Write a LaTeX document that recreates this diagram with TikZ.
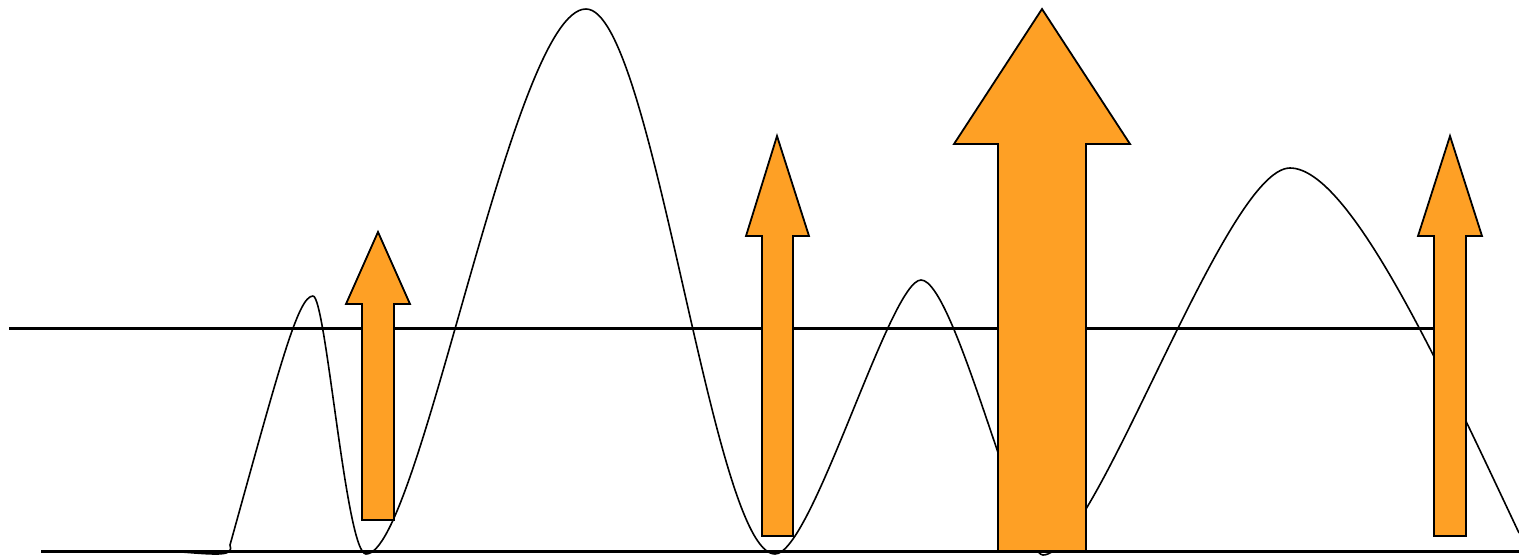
\documentclass[tikz,border=0pt]{standalone}
\begin{document}
\begin{tikzpicture}[x=0.5pt,y=-0.5pt]
\definecolor{arrowfill}{RGB}{254,160,37}
\tikzset{
  wave/.style={line width=0.8pt, line join=round},
  axisline/.style={line width=1.5pt},
  uparrow/.style={draw=black, fill=arrowfill, line width=0.9pt}}
\useasboundingbox (0,0) rectangle (1519,556);
% lines
\coordinate (l1a) at (9,328); \coordinate (l1b) at (1435,328);
\coordinate (l2a) at (41,551); \coordinate (l2b) at (1519,551);
\draw[axisline] (l1a) -- (l1b);
\draw[axisline] (l2a) -- (l2b);
% wave
\coordinate (w0) at (182,552);
\coordinate (w1) at (230,545);
\coordinate (p1) at (313,296);
\coordinate (t1) at (366,554);
\coordinate (p2) at (586,9);
\coordinate (t2) at (775,554);
\coordinate (p3) at (921,280);
\coordinate (t3) at (1043,555);
\coordinate (p4) at (1290,168);
\coordinate (w9) at (1519,533);
\draw[wave] (w0) .. controls (220,555) and (234,556) .. (w1)
  .. controls (280,365) and (298,296) .. (p1)
  .. controls (326,296) and (346,554) .. (t1)
  .. controls (420,554) and (512,9) .. (p2)
  .. controls (653,9) and (712,554) .. (t2)
  .. controls (812,554) and (890,280) .. (p3)
  .. controls (955,280) and (1020,555) .. (t3)
  .. controls (1095,555) and (1225,168) .. (p4)
  .. controls (1350,168) and (1442,370) .. (w9);
% arrows
\draw[uparrow] (378,232) -- (410,304) -- (394,304) -- (394,520) -- (362,520) -- (362,304) -- (346,304) -- cycle;
\draw[uparrow] (777,136) -- (809,236) -- (793,236) -- (793,536) -- (762,536) -- (762,236) -- (746,236) -- cycle;
\draw[uparrow] (1042,9) -- (1130,144) -- (1086,144) -- (1086,551) -- (998,551) -- (998,144) -- (954,144) -- cycle;
\draw[uparrow] (1450,136) -- (1482,236) -- (1466,236) -- (1466,536) -- (1434,536) -- (1434,236) -- (1418,236) -- cycle;
\end{tikzpicture}
\end{document}
